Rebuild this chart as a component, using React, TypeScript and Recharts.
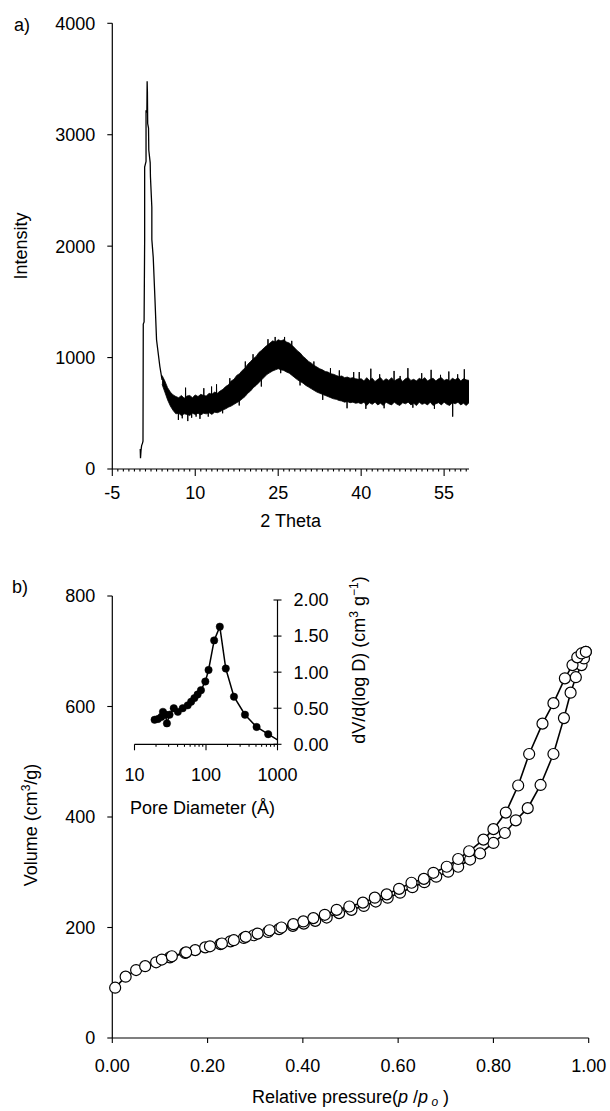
import React from 'react';
import { ComposedChart, LineChart, Line, Area, XAxis, YAxis } from 'recharts';

const FONT = '"Liberation Sans", Arial, Helvetica, sans-serif';

// ---------- Panel a: XRD pattern ----------
const xrdPeakTheta = [0.05, 0.1, 0.2, 0.3, 0.45, 0.55, 0.6, 0.75, 0.85, 0.85, 1.1, 1.1, 1.25, 1.3, 1.35, 1.4, 1.55, 1.6, 1.85, 1.9, 2.15, 2.15, 2.4, 2.72, 3.0, 3.6, 4.0];
const xrdPeakIntensity = [180, 96, 170, 210, 230, 250, 1300, 1320, 2060, 2710, 2760, 3220, 3200, 3480, 3380, 3100, 3060, 2860, 2750, 2620, 2350, 2060, 1900, 1517, 1160, 920, 800];

const xrdBandTheta = [4.0, 4.5, 5.0, 5.5, 6.0, 6.5, 7.0, 7.5, 8.0, 8.5, 9.0, 9.5, 10.0, 10.5, 11.0, 11.5, 12.0, 12.5, 13.0, 13.5, 14.0, 14.5, 15.0, 15.5, 16.0, 16.5, 17.0, 17.5, 18.0, 18.5, 19.0, 19.5, 20.0, 20.5, 21.0, 21.5, 22.0, 22.5, 23.0, 23.5, 24.0, 24.5, 25.0, 25.5, 26.0, 26.5, 27.0, 27.5, 28.0, 28.5, 29.0, 29.5, 30.0, 30.5, 31.0, 31.5, 32.0, 32.5, 33.0, 33.5, 34.0, 34.5, 35.0, 35.5, 36.0, 36.5, 37.0, 37.5, 38.0, 38.5, 39.0, 39.5, 40.0, 40.5, 41.0, 41.5, 42.0, 42.5, 43.0, 43.5, 44.0, 44.5, 45.0, 45.5, 46.0, 46.5, 47.0, 47.5, 48.0, 48.5, 49.0, 49.5, 50.0, 50.5, 51.0, 51.5, 52.0, 52.5, 53.0, 53.5, 54.0, 54.5, 55.0, 55.5, 56.0, 56.5, 57.0, 57.5, 58.0, 58.5, 59.0, 59.5];
const xrdBandLow = [760, 690, 620, 565, 525, 495, 500, 480, 495, 490, 480, 500, 490, 500, 485, 500, 495, 505, 490, 510, 505, 515, 530, 540, 555, 565, 580, 595, 610, 630, 650, 680, 700, 730, 750, 775, 800, 825, 850, 865, 880, 890, 900, 890, 885, 870, 860, 840, 820, 800, 785, 770, 750, 735, 720, 705, 690, 680, 670, 660, 650, 640, 630, 625, 615, 610, 600, 605, 595, 600, 590, 595, 585, 600, 570, 595, 580, 600, 575, 590, 570, 600, 585, 575, 600, 580, 570, 595, 585, 600, 575, 590, 570, 600, 580, 590, 575, 600, 570, 585, 595, 575, 600, 580, 570, 595, 585, 600, 575, 590, 570, 595];
const xrdBandHigh = [840, 790, 730, 690, 665, 650, 640, 660, 635, 655, 660, 640, 665, 650, 670, 660, 655, 680, 670, 690, 680, 700, 715, 740, 755, 790, 805, 840, 855, 885, 905, 940, 965, 990, 1010, 1045, 1065, 1090, 1110, 1130, 1150, 1140, 1160, 1150, 1160, 1140, 1130, 1110, 1085, 1060, 1040, 1010, 990, 965, 950, 930, 915, 900, 890, 875, 870, 855, 850, 840, 830, 835, 820, 825, 815, 820, 810, 805, 810, 790, 820, 795, 815, 785, 805, 820, 790, 810, 795, 820, 790, 805, 815, 785, 810, 820, 795, 805, 790, 815, 800, 820, 790, 805, 815, 790, 810, 820, 795, 805, 790, 815, 800, 820, 790, 810, 800, 795];

const xrdSpikeTheta = [6.0, 6.9, 6.95, 7.0, 7.6, 7.65, 7.7, 8.2, 8.25, 8.3, 8.6, 8.65, 8.7, 9.3, 9.35, 9.4, 10.1, 10.15, 10.2, 10.8, 10.85, 10.9, 11.5, 11.55, 11.6, 12.3, 12.35, 12.4, 12.9, 12.95, 13.0, 13.8, 13.85, 13.9, 14.9, 14.95, 15.0, 16.2, 16.25, 16.3, 17.9, 17.95, 18.0, 19.0, 19.05, 19.1, 20.4, 20.45, 20.5, 21.9, 21.95, 22.0, 23.1, 23.15, 23.2, 24.4, 24.45, 24.5, 25.4, 25.45, 25.5, 26.1, 26.15, 26.2, 27.4, 27.45, 27.5, 28.9, 28.95, 29.0, 31.4, 31.45, 31.5, 33.0, 33.05, 33.1, 34.4, 34.45, 34.5, 36.0, 36.05, 36.1, 37.4, 37.45, 37.5, 38.6, 38.65, 38.7, 39.6, 39.65, 39.7, 40.8, 40.85, 40.9, 41.7, 41.75, 41.8, 43.3, 43.35, 43.4, 44.1, 44.15, 44.2, 45.9, 45.95, 46.0, 47.0, 47.05, 47.1, 48.4, 48.45, 48.5, 49.3, 49.35, 49.4, 50.9, 50.95, 51.0, 52.6, 52.65, 52.7, 53.2, 53.25, 53.3, 54.3, 54.35, 54.4, 55.8, 55.85, 55.9, 56.5, 56.55, 56.6, 57.4, 57.45, 57.5, 58.6, 58.65, 58.7];
const xrdSpikeIntensity = [590, 575, 440, 575, 570, 455, 570, 570, 730, 570, 570, 430, 570, 575, 460, 575, 575, 470, 575, 575, 450, 575, 580, 725, 580, 585, 470, 585, 585, 740, 585, 595, 760, 595, 625, 500, 625, 660, 815, 660, 735, 570, 735, 780, 965, 780, 860, 1030, 860, 935, 740, 935, 990, 1165, 990, 1015, 1185, 1015, 1020, 860, 1020, 1020, 1185, 1020, 975, 1150, 975, 915, 750, 915, 815, 965, 815, 780, 620, 780, 750, 905, 750, 725, 885, 725, 715, 545, 715, 710, 870, 710, 700, 870, 700, 700, 540, 700, 700, 900, 700, 700, 850, 700, 700, 545, 700, 700, 880, 700, 700, 835, 700, 700, 905, 700, 700, 550, 700, 700, 860, 700, 700, 890, 700, 700, 540, 700, 700, 845, 700, 700, 875, 700, 700, 470, 700, 700, 850, 700, 700, 895, 700];

const xrdYTicks = [0, 1000, 2000, 3000, 4000];
const xrdXMajorTicks = [-5, 10, 25, 40, 55];

// ---------- Panel b: N2 isotherm ----------
const adsP = [0.006, 0.028, 0.05, 0.069, 0.092, 0.121, 0.153, 0.174, 0.195, 0.227, 0.248, 0.276, 0.297, 0.327, 0.35, 0.379, 0.402, 0.426, 0.45, 0.476, 0.502, 0.528, 0.553, 0.578, 0.604, 0.63, 0.655, 0.68, 0.705, 0.726, 0.751, 0.772, 0.8, 0.824, 0.847, 0.872, 0.899, 0.926, 0.948, 0.962, 0.973, 0.985, 0.99, 0.994];
const adsV = [91, 111, 123, 130, 137, 146, 154, 159, 164, 170, 175, 181, 186, 192, 197, 203, 207, 212, 218, 226, 232, 239, 247, 254, 263, 273, 282, 292, 301, 310, 323, 334, 353, 371, 394, 416, 458, 514, 579, 625, 653, 675, 687, 699];
const desP = [0.104, 0.125, 0.155, 0.205, 0.23, 0.255, 0.28, 0.305, 0.33, 0.355, 0.38, 0.401, 0.422, 0.446, 0.471, 0.4975, 0.526, 0.551, 0.576, 0.602, 0.628, 0.654, 0.674, 0.702, 0.726, 0.749, 0.779, 0.8, 0.826, 0.852, 0.875, 0.903, 0.926, 0.95, 0.966, 0.976, 0.985, 0.994];
const desV = [142, 148, 155, 166, 171, 177, 183, 189, 195, 200, 206, 211, 217, 223, 232, 238, 245, 254, 260, 270, 281, 288, 299, 310, 324, 338, 359, 378, 408, 457, 514, 569, 606, 651, 675, 689, 696, 699];
const isoYTicks = [0, 200, 400, 600, 800];
const isoXTicks = [0, 0.2, 0.4, 0.6, 0.8, 1.0];

// ---------- Inset: pore size distribution ----------
const poreD = [19.1, 21.3, 23.7, 25, 27.2, 28.4, 30.9, 35.4, 40.4, 47.3, 55.5, 62, 68.8, 76.3, 85, 97.9, 108.6, 130, 156, 189, 246, 351, 510, 741, 1000];
const poreDV = [0.34, 0.35, 0.38, 0.45, 0.41, 0.29, 0.41, 0.5, 0.45, 0.5, 0.54, 0.59, 0.64, 0.69, 0.75, 0.87, 1.03, 1.44, 1.63, 1.05, 0.66, 0.41, 0.24, 0.14, 0.06];
const poreXMajor = [10, 100, 1000];
const poreXMinor = [20, 30, 40, 50, 60, 70, 80, 90, 200, 300, 400, 500, 600, 700, 800, 900];
const poreYTicks = [0, 0.5, 1.0, 1.5, 2.0];

// ---------- derived tables ----------
const peakData = xrdPeakTheta.map((t, i) => ({ t, v: xrdPeakIntensity[i] }));
const bandData = xrdBandTheta.map((t, i) => ({ t, range: [xrdBandLow[i], xrdBandHigh[i]] }));
const spikeData = xrdSpikeTheta.map((t, i) => ({ t, v: xrdSpikeIntensity[i] }));
const adsData = adsP.map((p, i) => ({ p, v: adsV[i] }));
const desData = desP.map((p, i) => ({ p, v: desV[i] }));
const poreData = poreD.map((d, i) => ({ d, v: poreDV[i] }));

const xrdAllTicks: number[] = [];
for (let t = -5; t <= 59; t += 1) xrdAllTicks.push(t);
const poreAllTicks = [...poreXMajor, ...poreXMinor].sort((a, b) => a - b);

const AX = '#000';

function makeBottomTick(majors: number[], majorLen: number, minorLen: number, labelOffset: number, fmt: (v: number) => string) {
  return (props: any) => {
    const { x, y, payload } = props;
    const v = payload.value;
    const isMajor = majors.some((m) => Math.abs(m - v) < 1e-9);
    return (
      <g>
        <line x1={x} y1={y} x2={x} y2={y + (isMajor ? majorLen : minorLen)} stroke={AX} strokeWidth={1.1} />
        {isMajor ? (
          <text x={x} y={y + labelOffset} textAnchor="middle" fontSize={18} fontFamily={FONT} fill="#000">
            {fmt(v)}
          </text>
        ) : null}
      </g>
    );
  };
}

const xrdTick = makeBottomTick(xrdXMajorTicks, 7, 2.5, 30, (v) => String(v));
const poreTick = makeBottomTick(poreXMajor, 6, 2.5, 36.5, (v) => String(v));

const poreRightTick = (props: any) => {
  const { x, y, payload } = props;
  return (
    <g>
      <line x1={x - 4} y1={y} x2={x + 4} y2={y} stroke={AX} strokeWidth={1.1} />
      <text x={x + 16} y={y + 6.4} textAnchor="start" fontSize={18} fontFamily={FONT} fill="#000">
        {Number(payload.value).toFixed(2)}
      </text>
    </g>
  );
};

const openDot = (props: any) => {
  const { cx, cy, index } = props;
  return <circle key={'o' + index} cx={cx} cy={cy} r={5.5} fill="#fff" stroke="#000" strokeWidth={1.2} />;
};

const filledDot = (props: any) => {
  const { cx, cy, index } = props;
  if (index === poreData.length - 1) return <g key={'f' + index} />;
  return <circle key={'f' + index} cx={cx} cy={cy} r={3.7} fill="#000" stroke="#000" strokeWidth={0.5} />;
};

const tickStyle = { fontSize: 18, fill: '#000', fontFamily: FONT };

export default function App() {
  return (
    <div style={{ position: 'absolute', left: 0, top: 0, width: 610, height: 1111, background: '#fff', fontFamily: FONT }}>
      {/* Panel a */}
      <div style={{ position: 'absolute', left: 0, top: 0 }}>
        <ComposedChart width={610} height={540} margin={{ top: 23.3, right: 141, bottom: 31, left: 0 }}>
          <XAxis
            type="number"
            dataKey="t"
            domain={[-5, 59.5]}
            ticks={xrdAllTicks}
            interval={0}
            allowDataOverflow
            height={40}
            tickSize={0}
            tickMargin={0}
            tickLine={false}
            tick={xrdTick}
            axisLine={{ stroke: AX, strokeWidth: 1.2 }}
          />
          <YAxis
            type="number"
            domain={[0, 4000]}
            ticks={xrdYTicks}
            interval={0}
            width={112.3}
            tickSize={5}
            tickMargin={12}
            tick={tickStyle}
            tickLine={{ stroke: AX, strokeWidth: 1.1 }}
            axisLine={{ stroke: AX, strokeWidth: 1.2 }}
          />
          <Area
            data={bandData}
            dataKey="range"
            type="linear"
            stroke="#000"
            strokeWidth={0.8}
            fill="#000"
            fillOpacity={1}
            isAnimationActive={false}
            dot={false}
            activeDot={false}
          />
          <Line data={spikeData} dataKey="v" type="linear" stroke="#000" strokeWidth={1} dot={false} activeDot={false} isAnimationActive={false} />
          <Line data={peakData} dataKey="v" type="linear" stroke="#000" strokeWidth={1.3} dot={false} activeDot={false} isAnimationActive={false} />
        </ComposedChart>
      </div>

      {/* Panel b */}
      <div style={{ position: 'absolute', left: 0, top: 560 }}>
        <ComposedChart width={610} height={551} margin={{ top: 36, right: 21.3, bottom: 33, left: 0 }}>
          <XAxis
            type="number"
            dataKey="p"
            domain={[0, 1]}
            ticks={isoXTicks}
            interval={0}
            height={40}
            tickSize={5}
            tickMargin={16}
            tickFormatter={(v: number) => v.toFixed(2)}
            tick={tickStyle}
            tickLine={{ stroke: AX, strokeWidth: 1.1 }}
            axisLine={{ stroke: AX, strokeWidth: 1.2 }}
          />
          <YAxis
            type="number"
            domain={[0, 800]}
            ticks={isoYTicks}
            interval={0}
            width={112.3}
            tickSize={5}
            tickMargin={12}
            tick={tickStyle}
            tickLine={{ stroke: AX, strokeWidth: 1.1 }}
            axisLine={{ stroke: AX, strokeWidth: 1.2 }}
          />
          <Line data={adsData} dataKey="v" type="linear" stroke="#000" strokeWidth={1.6} dot={openDot} activeDot={false} isAnimationActive={false} />
          <Line data={desData} dataKey="v" type="linear" stroke="#000" strokeWidth={1.6} dot={openDot} activeDot={false} isAnimationActive={false} />
        </ComposedChart>
      </div>

      {/* Inset */}
      <div style={{ position: 'absolute', left: 100, top: 580 }}>
        <LineChart width={280} height={240} margin={{ top: 20, right: 42.5, bottom: 45.7, left: 34.5 }}>
          <XAxis
            type="number"
            dataKey="d"
            scale="log"
            domain={[10, 1000]}
            ticks={poreAllTicks}
            interval={0}
            allowDataOverflow
            height={30}
            tickSize={0}
            tickMargin={0}
            tickLine={false}
            tick={poreTick}
            axisLine={{ stroke: AX, strokeWidth: 1.2 }}
          />
          <YAxis
            yAxisId={0}
            orientation="right"
            type="number"
            domain={[0, 2]}
            ticks={poreYTicks}
            interval={0}
            width={60}
            tickSize={0}
            tickMargin={0}
            tickLine={false}
            tick={poreRightTick}
            axisLine={{ stroke: AX, strokeWidth: 1.2 }}
          />
          <Line data={poreData} dataKey="v" type="linear" stroke="#000" strokeWidth={1.5} dot={filledDot} activeDot={false} isAnimationActive={false} />
        </LineChart>
      </div>

      {/* Text overlay */}
      <svg width={610} height={1111} style={{ position: 'absolute', left: 0, top: 0, pointerEvents: 'none' }} fontFamily={FONT} fontSize={18} fill="#000">
        <text x={14} y={31}>a)</text>
        <text x={27} y={246} textAnchor="middle" transform="rotate(-90 27 246)">Intensity</text>
        <text x={290.6} y={527} textAnchor="middle">2 Theta</text>

        <text x={12} y={593}>b)</text>
        <text x={37} y={825} textAnchor="middle" transform="rotate(-90 37 825)">
          Volume (cm<tspan dy={-7} fontSize={12}>3</tspan>
          <tspan dy={7}>/g)</tspan>
        </text>
        <text x={350.5} y={1103} textAnchor="middle">
          Relative pressure(<tspan fontStyle="italic">p</tspan> /<tspan fontStyle="italic">p</tspan>
          <tspan dy={3} fontSize={12} fontStyle="italic"> o</tspan>
          <tspan dy={-3}> )</tspan>
        </text>

        <text x={130} y={814}>Pore Diameter (Å)</text>
        <text x={365} y={660} textAnchor="middle" transform="rotate(-90 365 660)">
          dV/d(log D) (cm<tspan dy={-7} fontSize={12}>3</tspan>
          <tspan dy={7}> g</tspan>
          <tspan dy={-7} fontSize={12}>−1</tspan>
          <tspan dy={7}>)</tspan>
        </text>
      </svg>
    </div>
  );
}
